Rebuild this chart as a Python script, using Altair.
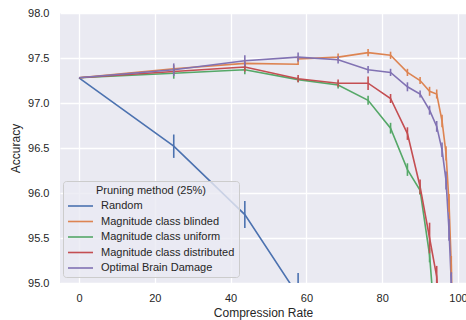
import altair as alt
import pandas as pd

# Compression rates reached after successive 25% pruning steps
rates = [0, 25, 43.75, 57.81, 68.36, 76.27, 82.2, 86.65, 89.99, 92.49,
         94.37, 95.78, 96.83, 97.62, 98.22, 98.66]

methods = ["Random", "Magnitude class blinded", "Magnitude class uniform",
           "Magnitude class distributed", "Optimal Brain Damage"]
colors = ["#4C72B0", "#DD8452", "#55A868", "#C44E52", "#8172B3"]

# Mean accuracy and error half-width per method
random_x = rates[:4]
random_acc = [97.28, 96.52, 95.76, 94.86]
random_err = [0, 0.13, 0.15, 0.25]

blinded_x = [0, 25, 43.75, 57.81, 57.81, 68.36, 76.27, 82.2, 86.65, 89.99,
             92.49, 94.37, 95.78, 96.83, 97.62, 98.22, 98.66]
blinded_acc = [97.28, 97.38, 97.44, 97.43, 97.49, 97.51, 97.56, 97.53, 97.34,
               97.25, 97.13, 97.10, 96.80, 96.44, 95.89, 95.20, 94.30]
blinded_err = [0, 0.04, 0.04, 0, 0.03, 0.04, 0.04, 0.04, 0.04, 0.04,
               0.05, 0.05, 0.07, 0.08, 0.10, 0.10, 0.10]

uniform_x = rates[:11]
uniform_acc = [97.28, 97.33, 97.37, 97.26, 97.20, 97.03, 96.72, 96.26, 96.03,
               95.31, 94.30]
uniform_err = [0, 0.06, 0.05, 0.03, 0.04, 0.05, 0.06, 0.07, 0.05, 0.08, 0.10]

distributed_x = rates[:12]
distributed_acc = [97.28, 97.35, 97.40, 97.27, 97.22, 97.22, 97.05, 96.66,
                   96.07, 95.50, 95.07, 94.30]
distributed_err = [0, 0.03, 0.05, 0.04, 0.04, 0.075, 0.05, 0.07, 0.08, 0.17,
                   0.12, 0.12]

obd_x = rates
obd_acc = [97.28, 97.37, 97.47, 97.51, 97.48, 97.37, 97.34, 97.18, 97.10,
           96.92, 96.74, 96.48, 96.14, 95.59, 95.00, 94.00]
obd_err = [0, 0.07, 0.06, 0.05, 0.04, 0.04, 0.04, 0.05, 0.04, 0.05, 0.06,
           0.08, 0.10, 0.12, 0.12, 0.12]

series = [
    (methods[0], random_x, random_acc, random_err),
    (methods[1], blinded_x, blinded_acc, blinded_err),
    (methods[2], uniform_x, uniform_acc, uniform_err),
    (methods[3], distributed_x, distributed_acc, distributed_err),
    (methods[4], obd_x, obd_acc, obd_err),
]

rows = []
for name, xs, ys, es in series:
    for i, (x, y, e) in enumerate(zip(xs, ys, es)):
        rows.append({"method": name, "rate": x, "acc": y, "err": e,
                     "lo": y - e, "hi": y + e, "step": i})
df = pd.DataFrame(rows)

x_scale = alt.Scale(domain=[-5.01, 102.1], nice=False, zero=False)
y_scale = alt.Scale(domain=[95, 98], nice=False, zero=False)
color_scale = alt.Scale(domain=methods, range=colors)

x_axis = alt.Axis(values=[0, 20, 40, 60, 80, 100], title="Compression Rate",
                  labelPadding=9, titlePadding=4)
y_axis = alt.Axis(values=[95, 95.5, 96, 96.5, 97, 97.5, 98], format=".1f",
                  title="Accuracy", labelPadding=11, titlePadding=5)

base = alt.Chart(df)

lines = base.mark_line(strokeWidth=1.6, clip=True).encode(
    x=alt.X("rate:Q", scale=x_scale, axis=x_axis),
    y=alt.Y("acc:Q", scale=y_scale, axis=y_axis),
    color=alt.Color(
        "method:N", scale=color_scale,
        legend=alt.Legend(
            title="Pruning method (25%)", orient="none",
            legendX=3, legendY=168, titleAnchor="middle",
            symbolType="M-1,0H4", symbolSize=100, symbolStrokeWidth=1.6,
            labelOffset=22, rowPadding=4.5, titlePadding=4, padding=4,
            fillColor="rgba(234,234,242,0.8)", strokeColor="#cccccc",
            cornerRadius=3,
        ),
    ),
    order="step:O",
)

bars = base.mark_rule(strokeWidth=1.6, clip=True).transform_filter(
    alt.datum.err > 0
).encode(
    x="rate:Q",
    y="lo:Q",
    y2="hi:Q",
    color=alt.Color("method:N", scale=color_scale, legend=None),
)

chart = alt.layer(lines, bars).properties(
    width=406, height=270,
    padding={"left": 60, "top": 13, "right": 0, "bottom": 37},
    autosize=alt.AutoSizeParams(type="none"),
).configure(
    font="Liberation Sans",
).configure_view(
    fill="#EAEAF2", stroke=None,
).configure_axis(
    grid=True, gridColor="#FFFFFF", gridWidth=1.3, domain=False, ticks=False,
    labelFontSize=11, titleFontSize=12, labelColor="#262626",
    titleColor="#262626", titleFontWeight="normal",
).configure_legend(
    labelFontSize=11, titleFontSize=11, titleFontWeight="normal",
    labelColor="#262626", titleColor="#262626",
)

chart.save("out.html", embed_options={"renderer": "svg", "actions": False})
